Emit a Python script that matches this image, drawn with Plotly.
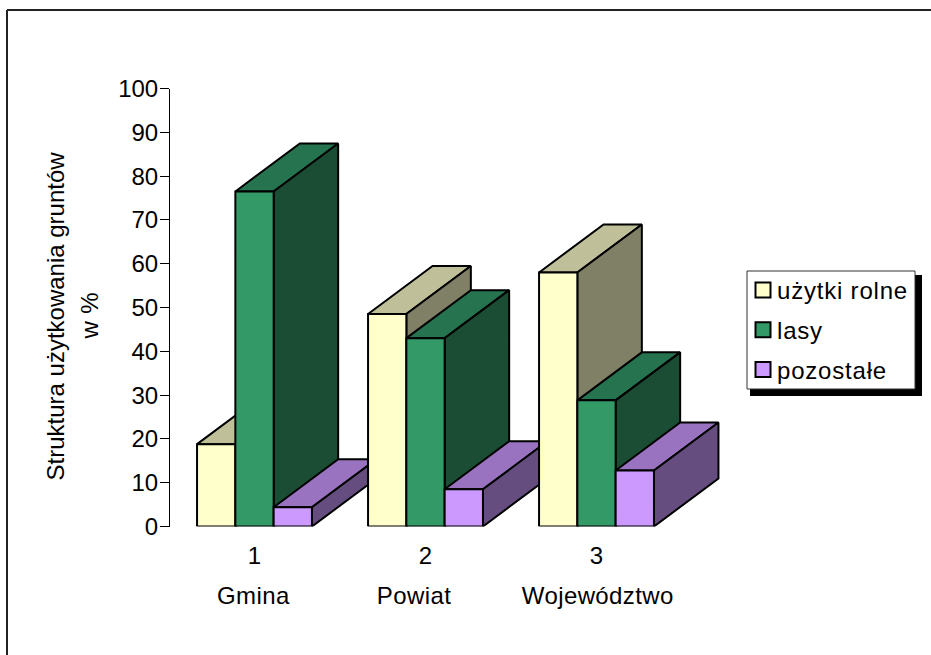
import plotly.graph_objects as go

groups = [1, 2, 3]
group_names = ["Gmina", "Powiat", "Województwo"]
series_names = ["użytki rolne", "lasy", "pozostałe"]
uzytki_rolne = [18.8, 48.5, 58.0]
lasy = [76.5, 43.0, 28.8]
pozostale = [4.4, 8.5, 12.8]
y_ticks = [0, 10, 20, 30, 40, 50, 60, 70, 80, 90, 100]

series_values = [uzytki_rolne, lasy, pozostale]
front_colors = ["#FFFFCC", "#339966", "#CC99FF"]
top_colors = ["#BFBF99", "#267350", "#9973BF"]
side_colors = ["#808066", "#1A4D33", "#664D80"]

W, H = 931, 655
PLOT_LEFT, PLOT_RIGHT, PLOT_TOP, PLOT_BOTTOM = 170, 760, 88.5, 526.5
PX_PER_GROUP = 171
PX_PER_UNIT = (PLOT_BOTTOM - PLOT_TOP) / 100
BAR_W = 38.3 / PX_PER_GROUP
DX = 64.5 / PX_PER_GROUP
DY = 48 / PX_PER_UNIT
X0 = 1 - (254.5 - PLOT_LEFT) / PX_PER_GROUP
X1 = X0 + (PLOT_RIGHT - PLOT_LEFT) / PX_PER_GROUP

fig = go.Figure()


def face(xs, ys, color):
    fig.add_trace(go.Scatter(
        x=xs + xs[:1], y=ys + ys[:1], mode="lines", fill="toself", fillcolor=color,
        line=dict(color="black", width=2), showlegend=False, hoverinfo="skip",
        cliponaxis=False))


for gi, g in enumerate(groups):
    for si, values in enumerate(series_values):
        v = values[gi]
        left = g + (si - 1.5) * BAR_W
        right = left + BAR_W
        face([left, right, right + DX, left + DX], [v, v, v + DY, v + DY], top_colors[si])
        face([right, right + DX, right + DX, right], [0, DY, v + DY, v], side_colors[si])
        face([left, right, right, left], [0, 0, v, v], front_colors[si])

for si, name in enumerate(series_names):
    fig.add_trace(go.Scatter(
        x=[None], y=[None], mode="markers", name=name, legendgroup=name,
        marker=dict(symbol="square", size=15, color=front_colors[si],
                    line=dict(color="black", width=2))))


def px(x):
    return x / W


def py(y):
    return 1 - y / H


FONT = dict(family="Liberation Sans, Arial, sans-serif", size=24, color="black")
shapes = [
    dict(type="line", xref="paper", yref="paper", x0=px(7), x1=px(7), y0=py(10), y1=0,
         line=dict(color="#222222", width=2)),
    dict(type="line", xref="paper", yref="paper", x0=px(7), x1=1, y0=py(10), y1=py(10),
         line=dict(color="#222222", width=2)),
    dict(type="rect", xref="paper", yref="paper", x0=px(750), x1=px(922), y0=py(275), y1=py(396),
         fillcolor="black", line=dict(color="black", width=0)),
    dict(type="rect", xref="paper", yref="paper", x0=px(747), x1=px(915), y0=py(271), y1=py(389),
         fillcolor="white", line=dict(color="#333333", width=1)),
]

annotations = [
    dict(text=group_names[0], x=1, xshift=-1, y=py(595), yref="paper", xref="x", showarrow=False, font=FONT, yanchor="middle"),
    dict(text=group_names[1], x=2, xshift=-12, y=py(595), yref="paper", xref="x", showarrow=False, font=FONT, yanchor="middle"),
    dict(text=group_names[2], x=3, xshift=1, y=py(595), yref="paper", xref="x", showarrow=False, font=FONT, yanchor="middle"),
    dict(text="Struktura użytkowania gruntów", x=px(54.5), y=py(316), xref="paper", yref="paper",
         showarrow=False, font=FONT, textangle=-90, xanchor="center", yanchor="middle"),
    dict(text="w %", x=px(89), y=py(316), xref="paper", yref="paper",
         showarrow=False, font=FONT, textangle=-90, xanchor="center", yanchor="middle"),
]

fig.update_layout(
    width=W, height=H, autosize=False,
    margin=dict(l=0, r=0, t=0, b=0, autoexpand=False),
    paper_bgcolor="white", plot_bgcolor="white",
    font=FONT,
    shapes=shapes, annotations=annotations,
    legend=dict(x=px(737), y=py(268), xanchor="left", yanchor="top",
                bgcolor="rgba(0,0,0,0)", borderwidth=0, font=FONT, tracegroupgap=5.5),
    xaxis=dict(domain=[px(PLOT_LEFT), px(PLOT_RIGHT)], range=[X0, X1], showgrid=False, zeroline=False,
               showline=False, tickmode="array", tickvals=groups, ticktext=[str(g) for g in groups],
               ticks="", tickfont=FONT, ticklabelstandoff=12),
    yaxis=dict(domain=[py(PLOT_BOTTOM), py(PLOT_TOP)], range=[0, 100], showgrid=False, zeroline=False,
               showline=True, linecolor="black", linewidth=1, tickmode="array", tickvals=y_ticks,
               ticks="outside", ticklen=9, tickwidth=1, tickcolor="black", tickfont=FONT,
               ticklabelstandoff=-3),
)

post = """
document.body.style.margin = '0';
document.documentElement.style.overflow = 'hidden';
document.querySelectorAll('.legendtext').forEach(t => t.style.letterSpacing = '0.8px');
document.querySelectorAll('.legendsymbols').forEach(t => t.setAttribute('transform','translate(6,0)'));
document.querySelectorAll('.legend .scrollbox').forEach(t => t.removeAttribute('clip-path'));
document.querySelectorAll('.legend .scrollbox').forEach(t => t.style.clipPath = 'none');
document.querySelectorAll('.annotation-text').forEach(t => { if (t.textContent.length < 12) t.style.letterSpacing = '0.4px'; });
"""
fig.write_html("out.html", post_script=post, config={"displayModeBar": False})
